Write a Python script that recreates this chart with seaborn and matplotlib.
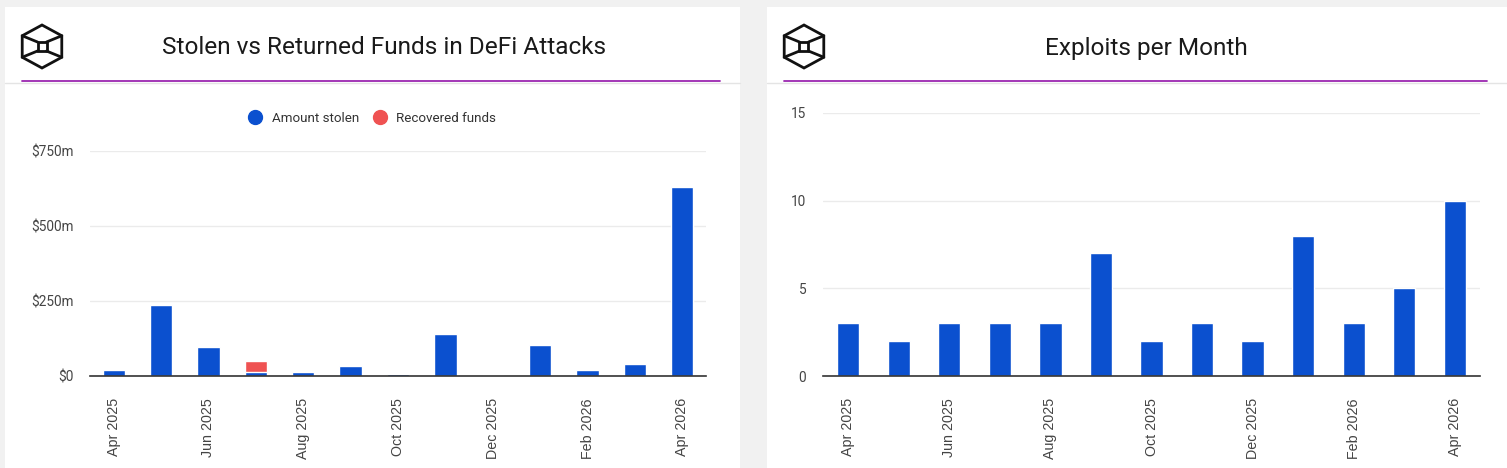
import matplotlib
matplotlib.use("Agg")
import matplotlib.pyplot as plt
import seaborn as sns
import pandas as pd
from matplotlib.patches import Rectangle, Polygon
from matplotlib.lines import Line2D
from matplotlib.ticker import FuncFormatter

# data
months = ["Apr 2025", "May 2025", "Jun 2025", "Jul 2025", "Aug 2025", "Sep 2025",
          "Oct 2025", "Nov 2025", "Dec 2025", "Jan 2026", "Feb 2026", "Mar 2026", "Apr 2026"]
stolen = [20, 237, 98, 12, 15, 32, 7, 140, 2, 102, 20, 39, 631]      # $m
recovered = [0, 0, 0, 38, 0, 3, 0, 0, 1, 0, 0, 0, 0]                  # $m
exploits = [3, 2, 3, 3, 3, 7, 2, 3, 2, 8, 3, 5, 10]
shown_ticks = ["Apr 2025", "Jun 2025", "Aug 2025", "Oct 2025", "Dec 2025", "Feb 2026", "Apr 2026"]

BLUE = "#0b50cf"
RED = "#ef5252"
PURPLE = "#9b27b0"
W, H = 1507, 468

df = pd.DataFrame({"month": months, "stolen": stolen, "recovered": recovered, "exploits": exploits})
df["total"] = df["stolen"] + df["recovered"]

sns.set_theme(style="white")
plt.rcParams["font.family"] = ["Roboto", "DejaVu Sans"]

fig = plt.figure(figsize=(W / 100, H / 100), dpi=100, facecolor="#f1f1f1")


def fx(x):
    return x / W


def fy(y):
    return 1 - y / H


def card(x0, x1, title, tx):
    fig.patches.append(Rectangle((fx(x0), 0), fx(x1 - x0), fy(7), transform=fig.transFigure,
                                 facecolor="white", edgecolor="none", zorder=-5))
    fig.lines.append(Line2D([fx(x0), fx(x1)], [fy(82.5), fy(82.5)], transform=fig.transFigure,
                            color="#e4e4e4", lw=1))
    fig.lines.append(Line2D([fx(x0 + 17), fx(x1 - 20)], [fy(80.5), fy(80.5)], transform=fig.transFigure,
                            color=PURPLE, lw=1.3))
    fig.text(fx(tx), fy(48), title, ha="center", va="center", fontsize=17.6, color="#1a1a1a")
    # logo: hexagonal cube
    cx, cy, r = x0 + 37, 46.5, 21.5
    hexpts = [(cx, cy - r), (cx + 0.92 * r, cy - r / 2), (cx + 0.92 * r, cy + r / 2),
              (cx, cy + r), (cx - 0.92 * r, cy + r / 2), (cx - 0.92 * r, cy - r / 2)]
    fig.patches.append(Polygon([(fx(a), fy(b)) for a, b in hexpts], closed=True, fill=False,
                               transform=fig.transFigure, edgecolor="#111", lw=2, joinstyle="miter"))
    s = 4.5
    inner = [(cx - s, cy - s), (cx + s, cy - s), (cx + s, cy + s), (cx - s, cy + s)]
    fig.patches.append(Polygon([(fx(a), fy(b)) for a, b in inner], closed=True, fill=False,
                               transform=fig.transFigure, edgecolor="#111", lw=2))
    for (a, b), (c, d) in zip([hexpts[1], hexpts[2], hexpts[4], hexpts[5]],
                              [inner[1], inner[2], inner[3], inner[0]]):
        fig.lines.append(Line2D([fx(a), fx(c)], [fy(b), fy(d)], transform=fig.transFigure,
                                color="#111", lw=2))


card(5, 740, "Stolen vs Returned Funds in DeFi Attacks", 384)
card(767, 1507, "Exploits per Month", 1146)


def style_axis(ax):
    ax.set_facecolor("none")
    ax.set_zorder(2)
    for sp in ["top", "right", "left"]:
        ax.spines[sp].set_visible(False)
    ax.spines["bottom"].set_color("#333333")
    ax.spines["bottom"].set_linewidth(1.2)
    ax.yaxis.grid(True, color="#ebebeb", lw=1)
    ax.set_axisbelow(True)
    ax.tick_params(axis="both", length=0, colors="#444444")
    ax.set_xlim(-0.5, len(months) - 0.5)
    ax.set_xlabel("")
    ax.set_ylabel("")
    ax.set_xticks(range(len(months)))
    ax.set_xticklabels([m if m in shown_ticks else "" for m in months], rotation=90,
                       fontsize=10.3, fontfamily="Liberation Sans", color="#444444")
    for lab in ax.get_yticklabels():
        lab.set_fontsize(9.8)
    ax.tick_params(axis="x", pad=16)
    ax.tick_params(axis="y", pad=12)


# left chart
ax1 = fig.add_axes([fx(90), fy(376), fx(706 - 90), (376 - 151) / H])
sns.barplot(data=df, x="month", y="total", color=RED, width=0.47, saturation=1, ax=ax1)
sns.barplot(data=df, x="month", y="stolen", color=BLUE, width=0.47, saturation=1, ax=ax1)
ax1.set_ylim(0, 750)
ax1.set_yticks([0, 250, 500, 750])
ax1.yaxis.set_major_formatter(FuncFormatter(lambda v, p: "$0" if v == 0 else f"${int(v)}m"))
style_axis(ax1)

handles = [Line2D([], [], marker="o", ls="", markersize=10, markerfacecolor=BLUE, markeredgecolor=BLUE),
           Line2D([], [], marker="o", ls="", markersize=10, markerfacecolor=RED, markeredgecolor=RED)]
fig.legend(handles, ["Amount stolen", "Recovered funds"], loc="center", bbox_to_anchor=(fx(369), fy(118)),
           ncol=2, frameon=False, fontsize=9.6, handletextpad=0.25, columnspacing=0.55,
           labelcolor="#333333")

# right chart
ax2 = fig.add_axes([fx(823), fy(376), fx(1480 - 823), (376 - 113) / H])
sns.barplot(data=df, x="month", y="exploits", color=BLUE, width=0.44, saturation=1, ax=ax2)
ax2.set_ylim(0, 15)
ax2.set_yticks([0, 5, 10, 15])
style_axis(ax2)

fig.savefig("out.png", dpi=100, facecolor=fig.get_facecolor())
